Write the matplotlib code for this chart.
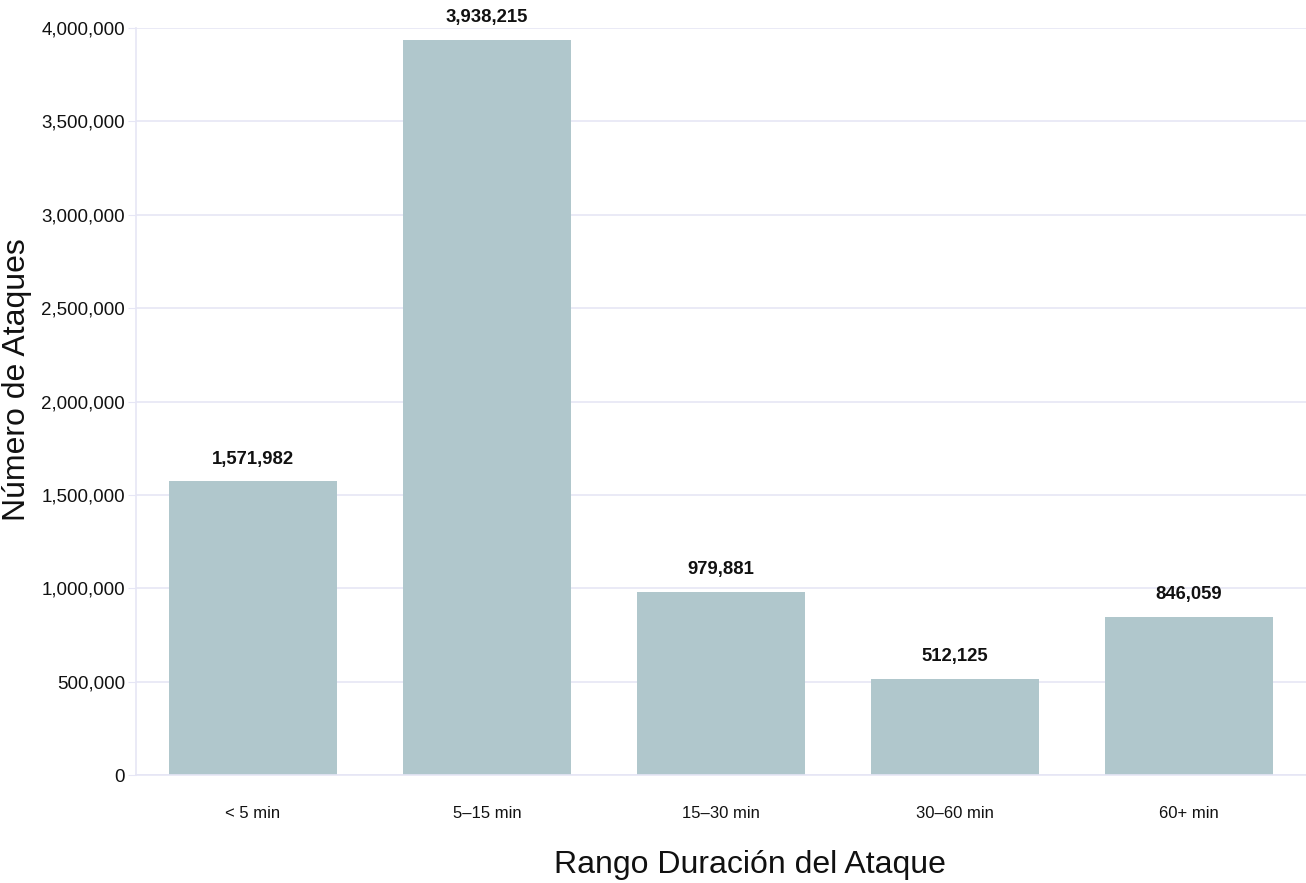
import matplotlib
matplotlib.use("Agg")
import matplotlib.pyplot as plt
from matplotlib.ticker import FuncFormatter

plt.rcParams['font.family'] = ['Liberation Sans', 'DejaVu Sans']

categories = ["< 5 min", "5–15 min", "15–30 min", "30–60 min", "60+ min"]
attacks = [1571982, 3938215, 979881, 512125, 846059]

bar_color = "#b0c7cc"
grid_color = "#e6e6f5"
text_color = "#111111"

fig = plt.figure(figsize=(13.06, 8.83), dpi=100)
ax = fig.add_axes([136 / 1306, 108 / 883, 1170 / 1306, 747 / 883])

x = list(range(len(categories)))
ax.bar(x, attacks, width=0.72, color=bar_color, zorder=2)

for xi, v in zip(x, attacks):
    ax.annotate(f"{v:,}", (xi, v), xytext=(0, 10), textcoords="offset points",
                ha="center", va="bottom", fontsize=13.3, fontweight="bold", color=text_color)

ax.set_xlim(-0.5, len(categories) - 0.5)
ax.set_ylim(0, 4_000_000)
ax.set_yticks(range(0, 4_000_001, 500_000))
ax.yaxis.set_major_formatter(FuncFormatter(lambda v, p: f"{int(v):,}"))
ax.set_xticks(x)
ax.set_xticklabels(categories)

ax.grid(axis="y", color=grid_color, linewidth=1.2, zorder=0)
ax.set_axisbelow(True)
for s in ["top", "right"]:
    ax.spines[s].set_visible(False)
for s in ["left", "bottom"]:
    ax.spines[s].set_color(grid_color)
    ax.spines[s].set_linewidth(1.2)

ax.tick_params(axis="y", length=6, color=grid_color, labelsize=13.5, labelcolor=text_color, pad=2)
ax.tick_params(axis="x", length=0, labelsize=12, labelcolor=text_color, pad=22)

ax.set_xlabel("Rango Duración del Ataque", fontsize=23, color=text_color, va="center")
ax.set_ylabel("Número de Ataques", fontsize=23, color=text_color, va="center")
ax.xaxis.set_label_coords(0.525, -0.1205)
ax.yaxis.set_label_coords(-0.1017, 0.529)

fig.savefig("out.png", dpi=100, facecolor="white")
